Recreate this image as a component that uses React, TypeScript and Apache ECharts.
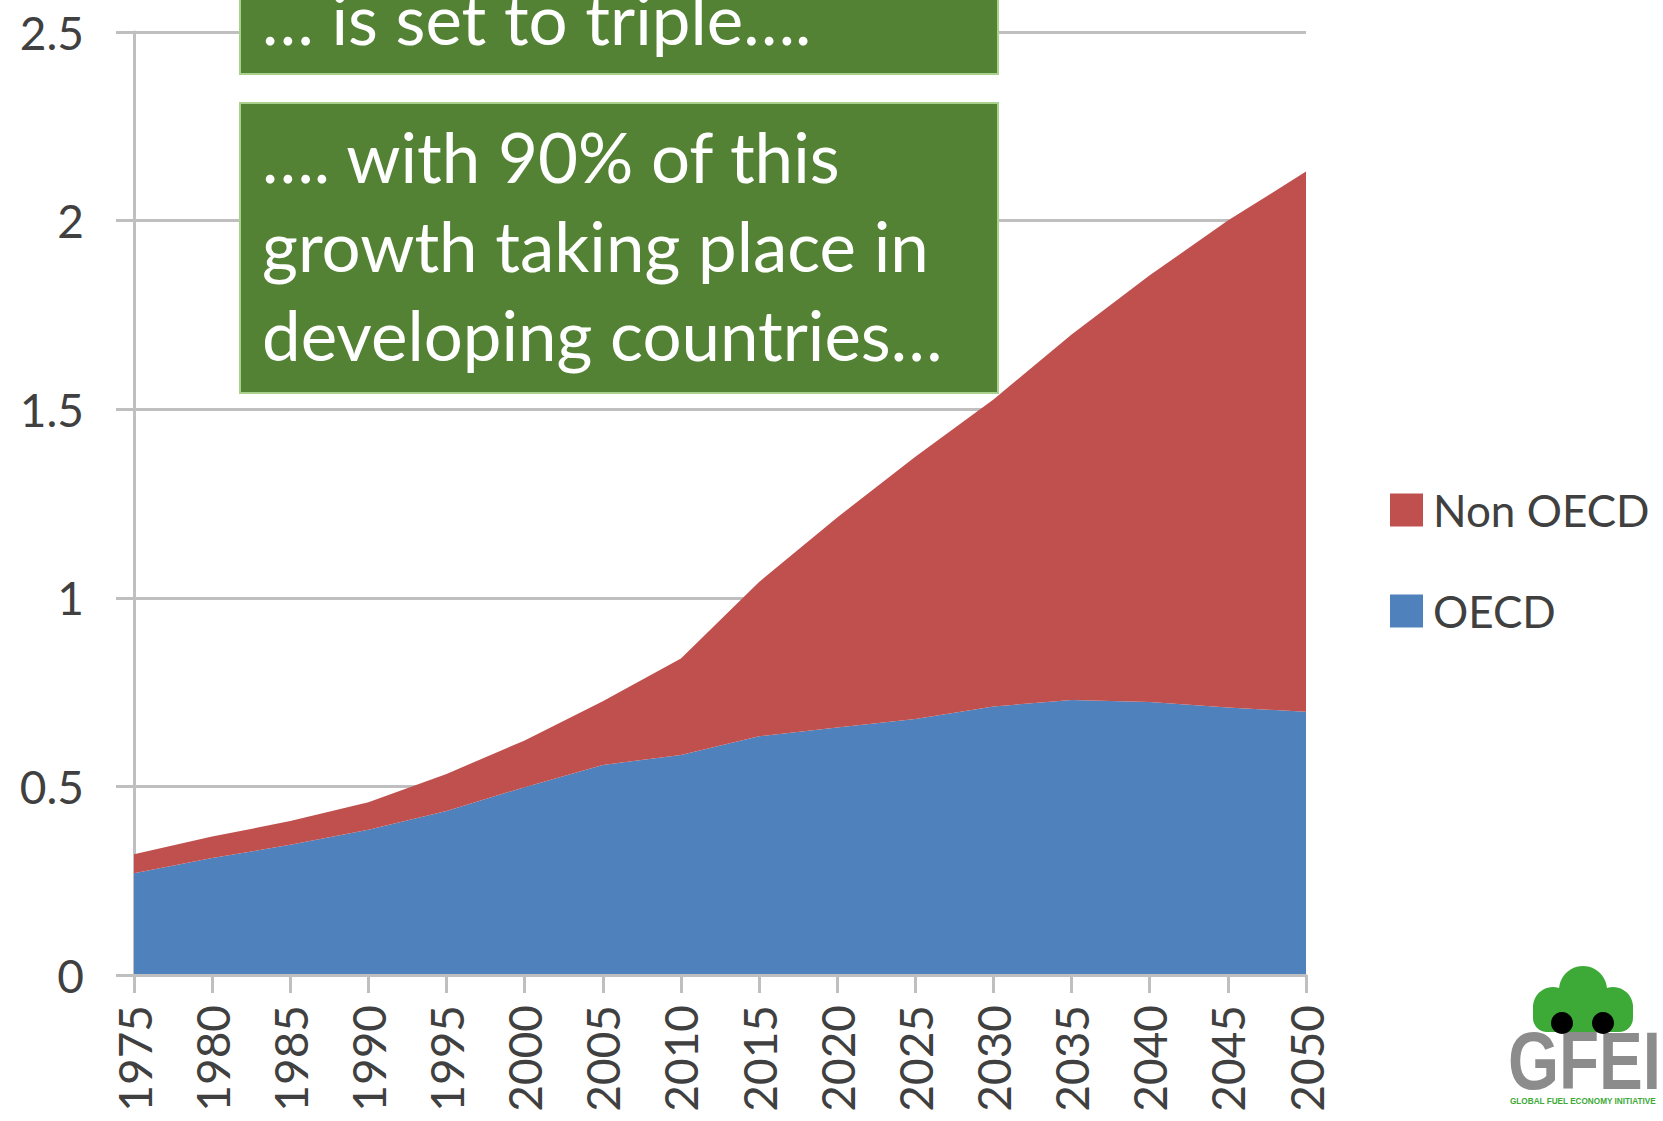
import React, { useEffect, useRef } from "react";
import * as echarts from "echarts";

const years = ["1975", "1980", "1985", "1990", "1995", "2000", "2005", "2010", "2015", "2020", "2025", "2030", "2035", "2040", "2045", "2050"];
const oecd = [0.27, 0.31, 0.345, 0.385, 0.435, 0.498, 0.557, 0.583, 0.633, 0.656, 0.679, 0.712, 0.729, 0.724, 0.709, 0.698];
const nonOecd = [0.05, 0.057, 0.063, 0.073, 0.098, 0.124, 0.169, 0.256, 0.409, 0.557, 0.695, 0.814, 0.969, 1.131, 1.291, 1.432];
const seriesNames = ["Non OECD", "OECD"];
const boxTopLines = ["… is set to triple…."];
const boxBottomLines = ["…. with 90% of this", "growth taking place in", "developing countries…"];
const logoName = "GFEI";
const logoTagline = "GLOBAL FUEL ECONOMY INITIATIVE";

const RED = "#C0504D";
const BLUE = "#4F81BD";
const BOX_GREEN = "#548235";
const LOGO_GREEN = "#3DAA38";
const AXIS_GRAY = "#BFBFBF";
const TEXT = "#404040";
const FONT = "Lato, 'Open Sans', sans-serif";

export default function App() {
  const ref = useRef<HTMLDivElement>(null);
  useEffect(() => {
    if (!ref.current) return;
    const chart = echarts.init(ref.current, null, { renderer: "svg" });
    const boxFont = `normal 69px ${FONT}`;
    const graphic: any[] = [
      {
        type: "rect",
        shape: { x: 240, y: -20, width: 758, height: 94 },
        style: { fill: BOX_GREEN, stroke: "#A9D18E", lineWidth: 2 },
        z: 100,
      },
      {
        type: "rect",
        shape: { x: 240, y: 103, width: 758, height: 290 },
        style: { fill: BOX_GREEN, stroke: "#A9D18E", lineWidth: 2 },
        z: 100,
      },
      ...boxTopLines.map((t, i) => ({
        type: "text",
        x: 262,
        y: 53 + i * 89,
        style: { text: t, fill: "#fff", font: boxFont, verticalAlign: "bottom" },
        z: 101,
      })),
      ...boxBottomLines.map((t, i) => ({
        type: "text",
        x: 262,
        y: 191 + i * 89,
        style: { text: t, fill: "#fff", font: boxFont, verticalAlign: "bottom" },
        z: 101,
      })),
      // logo cloud car
      { type: "circle", shape: { cx: 1583, cy: 990, r: 24 }, style: { fill: LOGO_GREEN }, z: 100 },
      { type: "circle", shape: { cx: 1553, cy: 1007, r: 20 }, style: { fill: LOGO_GREEN }, z: 100 },
      { type: "circle", shape: { cx: 1613, cy: 1007, r: 20 }, style: { fill: LOGO_GREEN }, z: 100 },
      { type: "rect", shape: { x: 1533, y: 1005, width: 100, height: 27, r: [0, 0, 14, 14] }, style: { fill: LOGO_GREEN }, z: 100 },
      { type: "circle", shape: { cx: 1562, cy: 1023, r: 11 }, style: { fill: "#000" }, z: 101 },
      { type: "circle", shape: { cx: 1603, cy: 1023, r: 11 }, style: { fill: "#000" }, z: 101 },
      {
        type: "text",
        x: 1508,
        y: 1102,
        scaleX: 0.8,
        style: { text: logoName, fill: "#8C8C8C", font: "bold 82px 'Liberation Sans', Arial, sans-serif", verticalAlign: "bottom" },
        z: 100,
      },
      {
        type: "text",
        x: 1510,
        y: 1096,
        scaleX: 0.91,
        style: { text: logoTagline, fill: LOGO_GREEN, font: "bold 9px 'Liberation Sans', Arial, sans-serif", verticalAlign: "top" },
        z: 100,
      },
    ];

    chart.setOption({
      animation: false,
      backgroundColor: "#fff",
      grid: { left: 134, right: 357, top: 32, bottom: 146, containLabel: false },
      legend: {
        orient: "vertical",
        left: 1385,
        top: 483,
        data: seriesNames,
        icon: "rect",
        itemWidth: 33,
        itemHeight: 33,
        itemGap: 57,
        textStyle: { color: TEXT, fontSize: 44, fontFamily: FONT, padding: [0, 0, 0, 5] },
      },
      xAxis: {
        type: "category",
        data: years,
        boundaryGap: false,
        axisLine: { lineStyle: { color: AXIS_GRAY, width: 3 } },
        axisTick: { show: true, length: 18, lineStyle: { color: AXIS_GRAY, width: 3 } },
        axisLabel: { rotate: 90, interval: 0, margin: 30, fontSize: 46, color: TEXT, fontFamily: FONT },
        z: 5,
      },
      yAxis: {
        type: "value",
        min: 0,
        max: 2.5,
        interval: 0.5,
        axisLine: { show: true, lineStyle: { color: AXIS_GRAY, width: 3 } },
        axisTick: { show: true, length: 18, lineStyle: { color: AXIS_GRAY, width: 3 } },
        splitLine: { show: true, lineStyle: { color: AXIS_GRAY, width: 3 } },
        axisLabel: { margin: 50, fontSize: 46, color: TEXT, fontFamily: FONT },
      },
      series: [
        {
          name: "OECD",
          type: "line",
          stack: "total",
          data: oecd,
          symbol: "none",
          lineStyle: { width: 0 },
          itemStyle: { color: BLUE },
          areaStyle: { color: BLUE, opacity: 1 },
        },
        {
          name: "Non OECD",
          type: "line",
          stack: "total",
          data: nonOecd,
          symbol: "none",
          lineStyle: { width: 0 },
          itemStyle: { color: RED },
          areaStyle: { color: RED, opacity: 1 },
        },
      ],
      graphic,
    });
    return () => chart.dispose();
  }, []);
  return <div ref={ref} style={{ position: "fixed", left: 0, top: 0, width: 1663, height: 1121 }} />;
}
